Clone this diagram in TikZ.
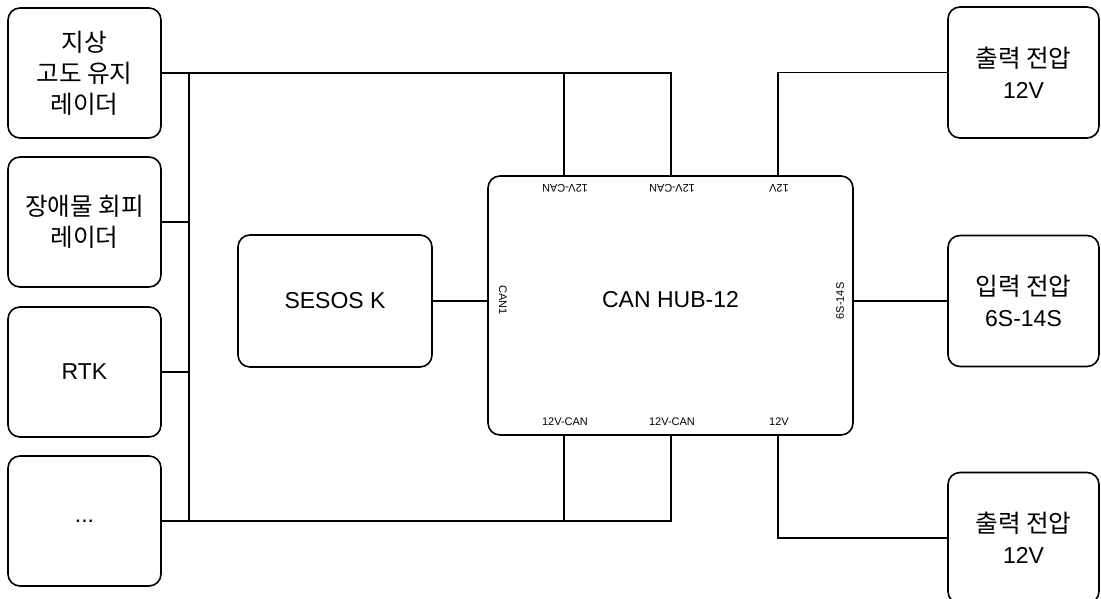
\documentclass[tikz,border=0pt]{standalone}
\usepackage{fontspec}
\setmainfont{Liberation Sans}
\newfontfamily\kr[Scale=1.07]{Noto Sans CJK KR}
\begin{document}
\begin{tikzpicture}[x=1pt,y=-1pt,
  box/.style={draw,line width=1.6pt,rounded corners=12pt,rectangle,inner sep=0pt,align=center,font=\fontsize{23}{31}\selectfont},
  lbox/.style={box,minimum width=153pt,minimum height=130pt},
  rbox/.style={box,minimum width=151pt,minimum height=131pt},
  wire/.style={line width=1.6pt},
  port/.style={inner sep=0pt,font=\fontsize{11}{13}\selectfont}]
\useasboundingbox (0,0) rectangle (1101,599);
% left boxes
\node[lbox] (L1) at (84.5,73) {\kr 지상\\\kr 고도 유지\\\kr 레이더};
\node[lbox] (L2) at (84.5,222) {\kr 장애물 회피\\\kr 레이더};
\node[lbox] (L3) at (84.5,372) {RTK};
\node[lbox] (L4) at (84.5,521) {...};
% centre
\node[box,minimum width=194pt,minimum height=132pt] (S) at (335,301) {SESOS K};
\node[box,minimum width=365pt,minimum height=259pt] (H) at (670.5,305.5) {};
\node[inner sep=0pt,font=\fontsize{23}{31}\selectfont] (HT) at (670.5,300) {CAN HUB-12};
% right boxes
\node[rbox] (R1) at (1023.5,72.5) {\kr 출력 전압\\12V};
\node[rbox] (R2) at (1023.5,301) {\kr 입력 전압\\6S-14S};
\node[rbox] (R3) at (1023.5,538) {\kr 출력 전압\\12V};
% ports
\coordinate (T1) at (564,176); \coordinate (T2) at (671,176); \coordinate (T3) at (778,176);
\coordinate (B1) at (564,435); \coordinate (B2) at (671,435); \coordinate (B3) at (778,435);
\coordinate (bus) at (189,73); \coordinate (busb) at (189,521);
\node[port,rotate=180] (tl1) at (565,188) {12V-CAN};
\node[port,rotate=180] (tl2) at (672,188) {12V-CAN};
\node[port,rotate=180] (tl3) at (779,188) {12V};
\node[port] (bl1) at (565,422) {12V-CAN};
\node[port] (bl2) at (672,422) {12V-CAN};
\node[port] (bl3) at (779,422) {12V};
\node[port,rotate=-90] (cl) at (503,300) {CAN1};
\node[port,rotate=90] (cr) at (840,301) {6S-14S};
% wires
\draw[wire] (L1.east) -| (T2);
\draw[wire] (T1) -- (T1 |- L1.east);
\draw[wire] (bus) -- (busb);
\draw[wire] (L2.east) -- (L2.east -| bus);
\draw[wire] (L3.east) -- (L3.east -| bus);
\draw[wire] (L4.east) -| (B2);
\draw[wire] (B1) -- (B1 |- L4.east);
\draw[wire] (T3) |- (R1.west);
\draw[wire] (B3) |- (R3.west);
\draw[wire] (S.east) -- (S.east -| H.west);
\draw[wire] (R2.west) -- (R2.west -| H.east);
\end{tikzpicture}
\end{document}
